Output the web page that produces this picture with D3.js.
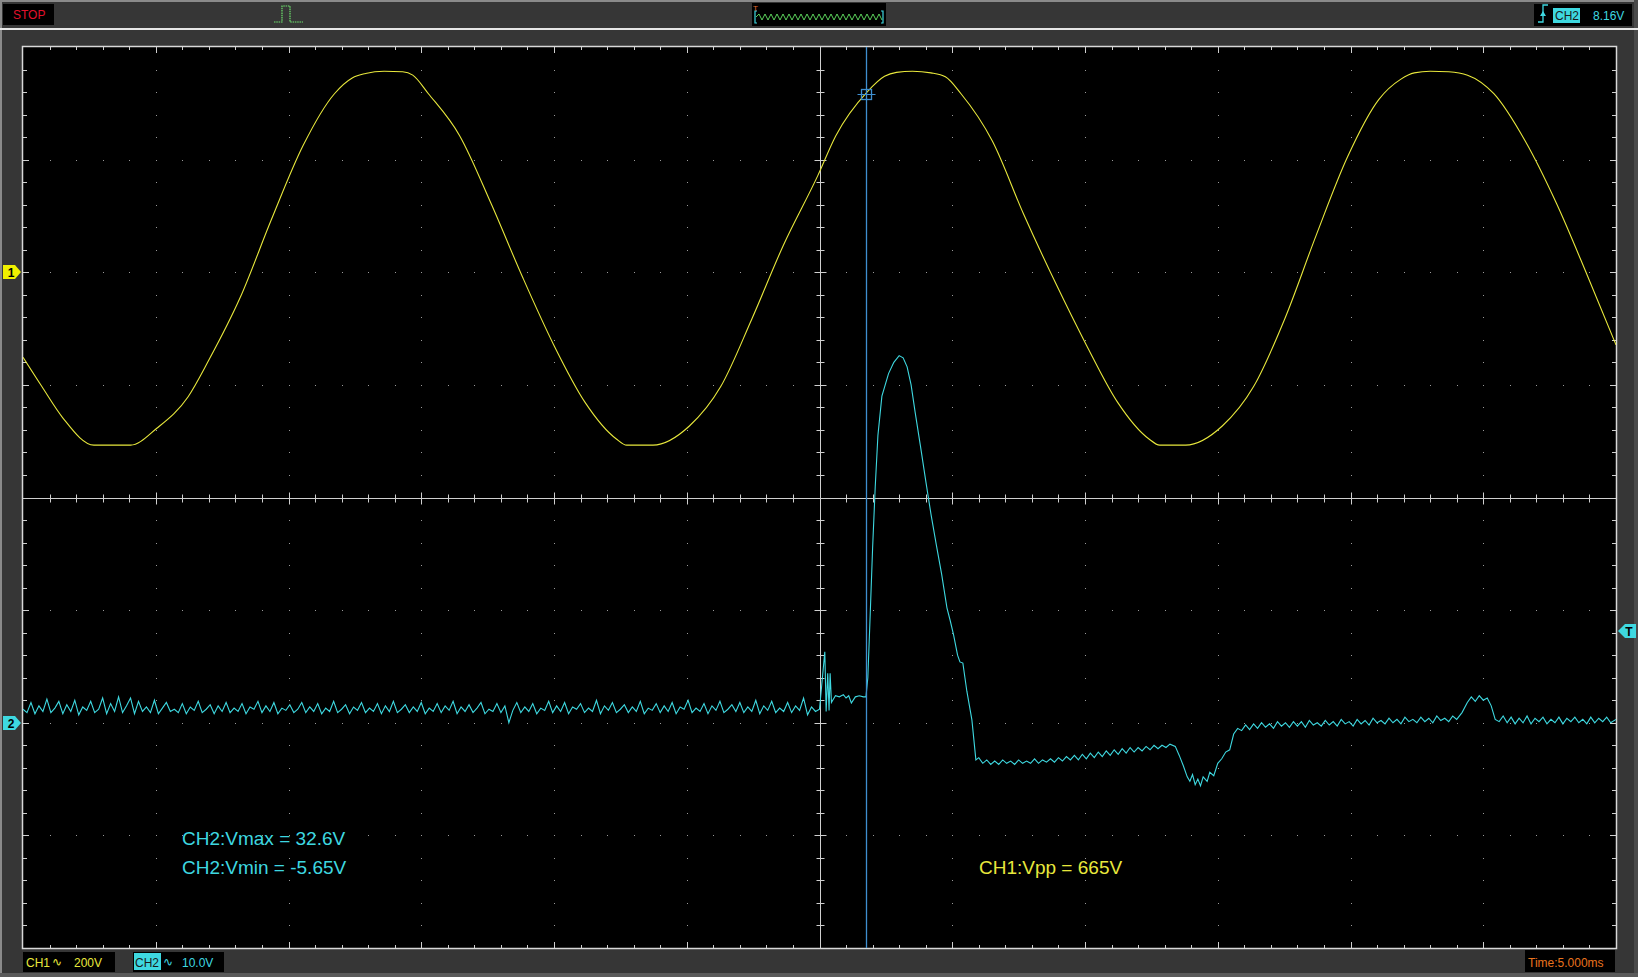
<!DOCTYPE html>
<html><head><meta charset="utf-8">
<script src="https://cdn.jsdelivr.net/npm/d3@7/dist/d3.min.js"></script>
<style>html,body{margin:0;padding:0;background:#353535;overflow:hidden}svg{display:block}text{font-family:"Liberation Sans",Arial,sans-serif}</style>
</head><body><svg id="c" width="1638" height="977"></svg>
<script>
// ---------------- data ----------------
const timeDomain = [-30, 30];      // ms  (5 ms/div, 12 div)
const ch1Domain = [-1200, 400];    // V   (200 V/div, ground 2 div above centre)
const ch2Domain = [-20, 60];       // V   (10 V/div, ground 2 div below centre)
const hDivs = 12, vDivs = 8, subDivs = 5;

const ch1Time = [-30.0,-29.29,-28.51,-27.33,-25.95,-24.96,-23.78,-23.0,-21.82,-20.64,-19.46,-18.27,-17.6,-17.1,-16.4,-15.7,-15.32,-14.73,-13.56,-12.37,-11.19,-10.01,-8.83,-7.65,-7.26,-6.27,-4.9,-3.72,-2.54,-1.36,-0.06,0.61,1.79,2.45,2.9,3.5,4.2,4.74,5.33,6.51,7.69,8.87,10.05,11.23,12.41,12.81,13.79,15.17,16.35,17.53,18.71,19.89,21.07,21.9,22.4,23.0,23.7,24.41,25.4,26.58,27.76,28.94,30.0];
const ch1Volt = [-151,-203,-258,-307,-307,-277,-221,-156,-45,94,224,317,345,353,357,356,350,317,243,122,-8,-129,-231,-296,-307,-307,-273,-203,-82,48,172,242,320,348,355,357,354,347,317,233,103,-17,-129,-231,-296,-307,-307,-273,-203,-82,66,205,307,343,354,357,356,350,317,233,122,-8,-129];

const ch2PreStart = -30, ch2PreStep = 0.15;
const ch2Pre = [
1.2,0.9,1.8,0.8,1.5,1.0,2.1,0.9,1.3,1.9, 0.8,1.6,1.0,2.0,0.7,1.4,1.1,1.9,0.9,1.2,
2.2,0.8,1.7,1.0,2.3,0.9,1.5,2.2,0.8,1.9, 1.0,1.4,0.9,2.0,0.8,1.3,1.8,1.0,1.2,0.9,
1.7,0.8,1.4,1.1,1.9,0.9,1.2,1.6,0.8,1.5, 1.0,1.8,0.9,1.3,1.0,1.7,0.8,1.4,1.2,1.9,
0.9,1.5,1.0,1.8,0.8,1.3,1.1,1.6,0.9,1.2, 1.8,0.9,1.4,1.0,1.7,0.8,1.3,1.0,1.9,0.9,
1.2,1.6,0.8,1.4,1.1,1.8,0.9,1.3,1.0,1.7, 0.8,1.5,1.0,1.9,0.9,1.2,1.6,0.9,1.4,1.0,
1.8,0.8,1.3,1.0,1.7,0.9,1.5,1.1,1.9,0.8, 1.4,1.0,1.6,0.9,1.3,1.8,0.8,1.2,1.0,1.7,
0.9,1.5,0.0,1.1,1.8,0.9,1.4,1.0,1.7,0.8, 1.3,1.1,1.9,0.9,1.5,1.0,1.8,0.8,1.4,1.2,
1.7,0.9,1.3,1.0,2.0,0.8,1.5,1.1,1.8,0.9, 1.2,1.6,0.9,1.4,1.0,1.9,0.8,1.3,1.1,1.7,
0.9,1.5,1.0,1.8,0.8,1.4,1.2,2.0,0.9,1.3, 1.0,1.7,0.8,1.5,1.1,1.9,0.9,1.2,1.6,1.0,
1.8,0.9,1.4,1.0,2.0,0.8,1.5,1.1,1.9,0.9, 1.3,1.0,1.8,0.9,1.5,1.1,2.2,0.7,1.4,1.0];

const ch2PostTime = [0.0,0.2,0.25,0.31,0.36,0.4,0.45,0.6,0.75,0.9,1.0,1.1,1.2,1.35,1.5,1.65,1.75,1.82,1.9,2.0,2.1,2.2,2.35,2.6,2.8,3.0,3.15,3.3,3.45,3.6,3.8,4.0,4.2,4.4,4.6,4.8,4.92,5.05,5.2,5.29,5.4,5.55,5.74,5.89,6.0,
6.15,6.3,6.45,6.6,6.75,6.9,7.05,7.2,7.35,7.5,7.65,7.8,7.95,8.1,8.25,8.4,8.55,8.7,8.85,9.0,9.15,9.3,9.45,9.6,9.75,9.9,10.05,10.2,10.35,10.5,10.65,10.8,10.95,11.1,11.25,11.4,11.55,11.7,11.85,12.0,12.15,12.3,12.45,12.6,12.75,12.9,13.05,13.2,13.4,13.55,13.7,13.85,13.95,14.05,14.15,14.25,14.35,14.45,14.6,14.7,14.85,15.0,15.15,15.3,15.45,15.6,15.75,15.9,
16.05,16.2,16.35,16.5,16.65,16.8,16.95,17.1,17.25,17.4,17.55,17.7,17.85,18.0,18.15,18.3,18.45,18.6,18.75,18.9,19.05,19.2,19.35,19.5,19.65,19.8,19.95,20.1,20.25,20.4,20.55,20.7,20.85,21.0,21.15,21.3,21.45,21.6,21.75,21.9,22.05,22.2,22.35,22.5,22.65,22.8,22.95,23.1,23.25,23.4,23.55,23.7,23.85,24.0,24.2,24.4,24.55,24.7,24.85,25.0,25.15,25.3,25.45,25.6,25.75,25.9,
26.05,26.2,26.35,26.5,26.65,26.8,26.95,27.1,27.25,27.4,27.55,27.7,27.85,28.0,28.15,28.3,28.45,28.6,28.75,28.9,29.05,29.2,29.35,29.5,29.65,29.8,30.0];
const ch2PostVolt = [1.2,6.3,1.0,4.4,1.1,4.4,1.8,2.4,2.3,2.5,2.2,2.4,1.75,2.3,2.4,2.3,2.3,4.0,9.0,15.5,21.0,25.5,29.0,31.0,32.0,32.6,32.4,31.6,30.0,27.6,24.6,21.5,18.5,15.8,13.2,10.2,9.1,7.8,6.0,5.4,5.3,2.8,0.25,-3.3,-3.1,
-3.6,-3.3,-3.7,-3.4,-3.7,-3.3,-3.6,-3.4,-3.7,-3.3,-3.6,-3.4,-3.6,-3.2,-3.6,-3.3,-3.5,-3.2,-3.5,-3.1,-3.4,-3.0,-3.3,-2.9,-3.3,-2.8,-3.2,-2.7,-3.1,-2.6,-3.0,-2.5,-2.9,-2.4,-2.8,-2.3,-2.7,-2.2,-2.6,-2.2,-2.5,-2.1,-2.4,-2.0,-2.3,-2.0,-2.2,-1.9,-2.1,-2.9,-3.8,-4.8,-5.2,-4.6,-5.5,-5.0,-5.6,-4.8,-5.2,-4.4,-4.7,-3.6,-3.2,-2.6,-2.4,-1.0,-0.5,-0.7,
-0.2,-0.6,-0.1,-0.5,0.0,-0.4,-0.1,-0.5,0.1,-0.3,0.0,-0.4,0.1,-0.3,0.1,-0.4,0.2,-0.2,0.0,-0.3,0.2,-0.2,0.1,-0.3,0.3,-0.1,0.1,-0.3,0.3,-0.1,0.2,-0.2,0.4,0.0,0.2,-0.1,0.4,0.0,0.3,-0.1,0.5,0.1,0.3,0.0,0.5,0.1,0.4,0.0,0.6,0.2,0.4,0.1,0.6,0.3,0.9,1.8,2.3,1.9,2.4,2.0,2.2,1.5,0.3,0.1,0.6,0.0,
0.5,-0.1,0.4,0.0,0.6,-0.1,0.4,0.1,0.5,-0.1,0.3,0.0,0.5,-0.1,0.4,0.1,0.5,0.0,0.3,-0.1,0.5,0.0,0.4,0.1,0.5,0.0,0.3];

const cursorTime = 1.75;     // ms, vertical cursor
const cursorMarkCh1 = 317;   // V, cursor crossing marker on CH1
const measureCh2 = ["CH2:Vmax = 32.6V", "CH2:Vmin = -5.65V"];
const measureCh1 = ["CH1:Vpp = 665V"];
const statusText = "STOP";
const trigInfo = ["CH2", "8.16V"];
const ch1Info = ["CH1", "200V"];
const ch2Info = ["CH2", "10.0V"];
const timeInfo = "Time:5.000ms";

// ---------------- colours ----------------
const YEL = "#e8e83c", CYA = "#3ed8e0", CUR = "#3f8fd0";

// ---------------- layout ----------------
const W = 1638, H = 977;
const L = 23, R = 1616, T = 47, B = 948;
const svg = d3.select("#c");
const x = d3.scaleLinear().domain(timeDomain).range([L, R]);
const y1 = d3.scaleLinear().domain(ch1Domain).range([B, T]);
const y2 = d3.scaleLinear().domain(ch2Domain).range([B, T]);
const dx = (R - L) / hDivs, dy = (B - T) / vDivs;

// frame background
svg.append("rect").attr("width", W).attr("height", H).attr("fill", "#363636");
svg.append("rect").attr("x", 0).attr("y", 0).attr("width", W).attr("height", 2).attr("fill", "#8a8a8a");
svg.append("rect").attr("x", 0).attr("y", 0).attr("width", 2).attr("height", H).attr("fill", "#8a8a8a");
svg.append("rect").attr("x", W - 4).attr("y", 0).attr("width", 4).attr("height", H).attr("fill", "#4a4a4a");
svg.append("rect").attr("x", 0).attr("y", H - 4).attr("width", W).attr("height", 4).attr("fill", "#5a5a5a");
svg.append("rect").attr("x", 0).attr("y", 28).attr("width", W).attr("height", 2).attr("fill", "#e6e6e6");

// plot area
svg.append("rect").attr("x", L).attr("y", T).attr("width", R - L).attr("height", B - T).attr("fill", "#000");

const g = svg.append("g");
// dotted grid
const dotCol = "#9a9a9a";
for (let i = 1; i < hDivs; i++) {
  if (i === hDivs / 2) continue;
  const xp = Math.round(L + i * dx);
  for (let j = 1; j < vDivs * subDivs; j++) {
    g.append("rect").attr("x", xp).attr("y", Math.round(T + j * dy / subDivs)).attr("width", 1).attr("height", 1).attr("fill", dotCol);
  }
}
for (let j = 1; j < vDivs; j++) {
  if (j === vDivs / 2) continue;
  const yp = Math.round(T + j * dy);
  for (let i = 1; i < hDivs * subDivs; i++) {
    g.append("rect").attr("x", Math.round(L + i * dx / subDivs)).attr("y", yp).attr("width", 1).attr("height", 1).attr("fill", dotCol);
  }
}
// centre lines
const cx = Math.round(L + dx * hDivs / 2) + 0.5, cy = Math.round(T + dy * vDivs / 2) + 0.5;
const lineCol = "#cfcfcf";
g.append("line").attr("x1", L).attr("x2", R).attr("y1", cy).attr("y2", cy).attr("stroke", lineCol);
g.append("line").attr("x1", cx).attr("x2", cx).attr("y1", T).attr("y2", B).attr("stroke", lineCol);
// ticks
for (let i = 1; i < hDivs * subDivs; i++) {
  const xp = Math.round(L + i * dx / subDivs) + 0.5;
  const maj = i % subDivs === 0;
  const len = maj ? 6 : 3;
  g.append("line").attr("x1", xp).attr("x2", xp).attr("y1", T).attr("y2", T + len).attr("stroke", lineCol);
  g.append("line").attr("x1", xp).attr("x2", xp).attr("y1", B - len).attr("y2", B).attr("stroke", lineCol);
  g.append("line").attr("x1", xp).attr("x2", xp).attr("y1", cy - (maj ? 6 : 4)).attr("y2", cy + (maj ? 6 : 4)).attr("stroke", lineCol);
}
for (let j = 1; j < vDivs * subDivs; j++) {
  const yp = Math.round(T + j * dy / subDivs) + 0.5;
  const maj = j % subDivs === 0;
  const len = maj ? 6 : 4;
  g.append("line").attr("x1", L).attr("x2", L + len).attr("y1", yp).attr("y2", yp).attr("stroke", lineCol);
  g.append("line").attr("x1", R - len).attr("x2", R).attr("y1", yp).attr("y2", yp).attr("stroke", lineCol);
  g.append("line").attr("x1", cx - (maj ? 6 : 4)).attr("x2", cx + (maj ? 6 : 4)).attr("y1", yp).attr("y2", yp).attr("stroke", lineCol);
}
// border
svg.append("rect").attr("x", L - 0.5).attr("y", T - 0.5).attr("width", R - L + 1).attr("height", B - T + 1)
  .attr("fill", "none").attr("stroke", "#d8d8d8").attr("stroke-width", 1.5);

// traces
svg.append("clipPath").attr("id", "pc").append("rect").attr("x", L).attr("y", T).attr("width", R - L).attr("height", B - T);
const tr = svg.append("g").attr("clip-path", "url(#pc)");
const ch1Data = ch1Time.map((t, i) => [t, ch1Volt[i]]);
const ch2Data = ch2Pre.map((v, i) => [ch2PreStart + i * ch2PreStep, v]).concat(ch2PostTime.map((t, i) => [t, ch2PostVolt[i]]));
tr.append("path").datum(ch1Data).attr("fill", "none").attr("stroke", YEL).attr("stroke-width", 1.1)
  .attr("d", d3.line().x(d => x(d[0])).y(d => y1(d[1])).curve(d3.curveMonotoneX));
tr.append("path").datum(ch2Data).attr("fill", "none").attr("stroke", CYA).attr("stroke-width", 1.1)
  .attr("d", d3.line().x(d => x(d[0])).y(d => y2(d[1])));

// cursor
const cxp = Math.round(x(cursorTime)) + 0.5;
svg.append("line").attr("x1", cxp).attr("x2", cxp).attr("y1", T).attr("y2", B).attr("stroke", CUR).attr("stroke-width", 1.3);
const my = Math.round(y1(cursorMarkCh1)) + 0.5;
svg.append("rect").attr("x", cxp - 5).attr("y", my - 5).attr("width", 10).attr("height", 10).attr("fill", "none").attr("stroke", CUR).attr("stroke-width", 1.3);
svg.append("line").attr("x1", cxp - 9).attr("x2", cxp + 9).attr("y1", my).attr("y2", my).attr("stroke", CUR);

// measurement texts
svg.selectAll(".m2").data(measureCh2).join("text").attr("x", 182).attr("y", (d, i) => 845 + i * 29)
  .attr("fill", CYA).attr("font-size", 19).text(d => d);
svg.selectAll(".m1").data(measureCh1).join("text").attr("x", 979).attr("y", 874)
  .attr("fill", YEL).attr("font-size", 19).text(d => d);

// channel markers (left) and trigger marker (right)
function leftMarker(yv, col, label) {
  const yp = Math.round(yv);
  svg.append("path").attr("d", `M3,${yp - 7}H15L21,${yp}L15,${yp + 7}H3Z`).attr("fill", col);
  svg.append("text").attr("x", 11).attr("y", yp + 5).attr("text-anchor", "middle").attr("font-size", 12).attr("font-weight", "bold").attr("fill", "#000").text(label);
}
leftMarker(y1(0), "#f0f000", "1");
leftMarker(y2(0), CYA, "2");
const ty = Math.round(y2(8.16));
svg.append("path").attr("d", `M1636,${ty - 7}H1625L1618,${ty}L1625,${ty + 7}H1636Z`).attr("fill", CYA);
svg.append("text").attr("x", 1629).attr("y", ty + 5).attr("text-anchor", "middle").attr("font-size", 12).attr("font-weight", "bold").attr("fill", "#000").text("T");

// top status bar
svg.append("rect").attr("x", 3).attr("y", 4).attr("width", 51).attr("height", 21).attr("fill", "#000");
svg.append("text").attr("x", 13).attr("y", 19).attr("font-size", 12).attr("fill", "#e2102c").text(statusText);
svg.append("path").attr("d", "M274,22H282V6H290V22H303").attr("fill", "none").attr("stroke", "#6ee46e").attr("stroke-width", 1.2).attr("stroke-dasharray", "1.5,0.8");

svg.append("rect").attr("x", 752).attr("y", 3).attr("width", 134).attr("height", 23).attr("fill", "#000");
let zz = "M756,17";
for (let k = 0; k < 21; k++) { zz += `L${759 + k * 6},14L${762 + k * 6},20`; }
svg.append("path").attr("d", zz).attr("fill", "none").attr("stroke", "#5ad05a").attr("stroke-width", 1);
svg.append("path").attr("d", "M757,11H755V23H757M881,11H883V23H881").attr("fill", "none").attr("stroke", CYA).attr("stroke-width", 1.2);
svg.append("text").attr("x", 753).attr("y", 11).attr("font-size", 8).attr("fill", "#e06a30").text("T");

svg.append("rect").attr("x", 1534).attr("y", 4).attr("width", 98).attr("height", 22).attr("fill", "#000");
svg.append("path").attr("d", "M1538,22H1543V5H1548").attr("fill", "none").attr("stroke", CYA).attr("stroke-width", 1.3);
svg.append("path").attr("d", "M1540,16L1543,11L1546,16Z").attr("fill", CYA);
svg.append("rect").attr("x", 1553).attr("y", 8).attr("width", 27).attr("height", 15).attr("fill", CYA);
svg.append("text").attr("x", 1555).attr("y", 20).attr("font-size", 12).attr("fill", "#1a1a1a").text(trigInfo[0]);
svg.append("text").attr("x", 1593).attr("y", 20).attr("font-size", 12).attr("fill", CYA).text(trigInfo[1]);

// bottom status bar
svg.append("rect").attr("x", 23).attr("y", 952).attr("width", 92).attr("height", 20).attr("fill", "#000");
svg.append("text").attr("x", 26).attr("y", 967).attr("font-size", 12).attr("fill", YEL).text(ch1Info[0]);
svg.append("text").attr("x", 52).attr("y", 966).attr("font-size", 12).attr("fill", YEL).text("∿");
svg.append("text").attr("x", 74).attr("y", 967).attr("font-size", 12).attr("fill", YEL).text(ch1Info[1]);

svg.append("rect").attr("x", 133).attr("y", 952).attr("width", 91).attr("height", 20).attr("fill", "#000");
svg.append("rect").attr("x", 134).attr("y", 953).attr("width", 27).attr("height", 17).attr("fill", CYA);
svg.append("text").attr("x", 135).attr("y", 967).attr("font-size", 12).attr("fill", "#1a1a1a").text(ch2Info[0]);
svg.append("text").attr("x", 163).attr("y", 966).attr("font-size", 12).attr("fill", CYA).text("∿");
svg.append("text").attr("x", 182).attr("y", 967).attr("font-size", 12).attr("fill", CYA).text(ch2Info[1]);

svg.append("rect").attr("x", 1525).attr("y", 950).attr("width", 90).attr("height", 22).attr("fill", "#000");
svg.append("text").attr("x", 1528).attr("y", 967).attr("font-size", 12).attr("fill", "#e8731e").text(timeInfo);
</script></body></html>
